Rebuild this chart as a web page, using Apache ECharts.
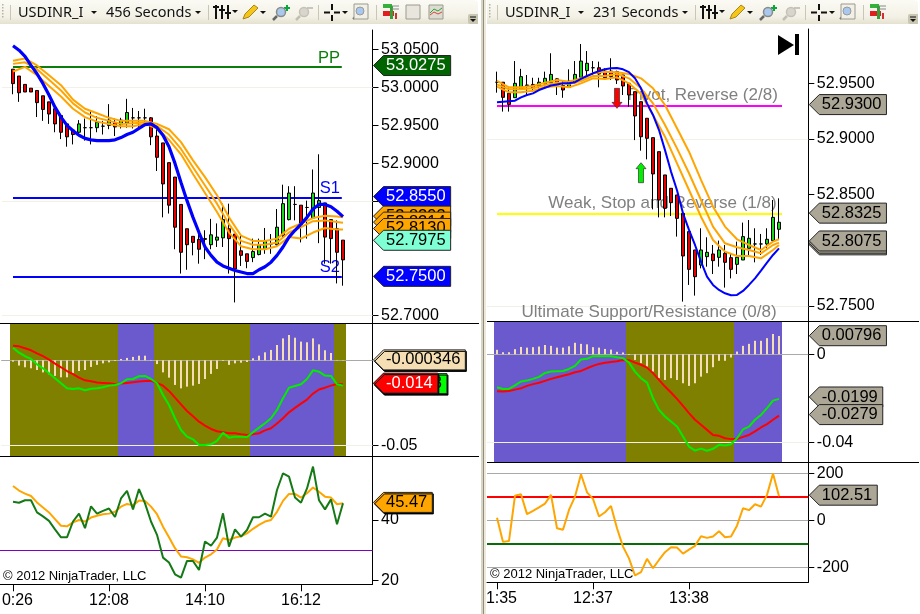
<!DOCTYPE html>
<html><head><meta charset="utf-8">
<style>html,body{margin:0;padding:0;background:#fff;overflow:hidden}#c{width:920px;height:614px}</style>
<script src="https://cdn.jsdelivr.net/npm/echarts@6/dist/echarts.min.js"></script>
</head><body><div id="c"></div>
<script>
// ---------- data, left chart (456 Seconds) : [open, close, low, high]
const leftOHLC = [
[53.024,53.005,52.991,53.024],[53.015,52.993,52.981,53.015],[53.004,52.994,52.994,53.004],[52.999,52.994,52.994,52.999],
[52.996,52.980,52.961,52.996],[52.989,52.971,52.956,52.989],[52.981,52.965,52.952,52.981],[52.972,52.952,52.941,52.972],
[52.963,52.941,52.932,52.963],[52.952,52.935,52.922,52.952],[52.944,52.938,52.925,52.944],[52.941,52.952,52.937,52.957],
[52.947,52.947,52.930,52.959],[52.947,52.947,52.925,52.970],[52.947,52.954,52.941,52.962],[52.949,52.949,52.938,52.956],
[52.950,52.957,52.945,52.978],[52.954,52.948,52.936,52.959],[52.951,52.957,52.946,52.960],[52.953,52.967,52.947,52.985],
[52.960,52.960,52.946,52.973],[52.960,52.960,52.948,52.969],[52.960,52.960,52.950,52.972],[52.960,52.935,52.924,52.961],
[52.936,52.908,52.890,52.948],[52.927,52.873,52.829,52.927],[52.901,52.845,52.834,52.901],[52.882,52.816,52.787,52.882],
[52.846,52.783,52.755,52.846],[52.814,52.793,52.760,52.814],[52.804,52.796,52.779,52.804],[52.800,52.787,52.768,52.812],
[52.801,52.800,52.774,52.812],[52.793,52.806,52.787,52.827],[52.799,52.803,52.790,52.821],[52.802,52.826,52.790,52.847],
[52.814,52.801,52.755,52.847],[52.807,52.761,52.717,52.807],[52.785,52.779,52.765,52.807],[52.781,52.771,52.762,52.781],
[52.776,52.784,52.770,52.801],[52.780,52.793,52.779,52.801],[52.787,52.798,52.781,52.815],[52.794,52.794,52.781,52.807],
[52.793,52.816,52.792,52.840],[52.805,52.847,52.803,52.872],[52.826,52.861,52.825,52.870],[52.846,52.846,52.825,52.870],
[52.845,52.820,52.796,52.845],[52.842,52.842,52.801,52.851],[52.828,52.861,52.827,52.892],[52.842,52.851,52.795,52.912],
[52.848,52.803,52.768,52.848],[52.826,52.801,52.768,52.826],[52.814,52.783,52.742,52.825],[52.799,52.773,52.739,52.799]];
const leftBlue = [53.055,53.049,53.041,53.029,53.018,53.005,52.990,52.974,52.961,52.950,52.943,52.937,52.933,52.931,52.930,52.930,52.930,52.931,52.934,52.938,52.941,52.946,52.951,52.952,52.947,52.937,52.922,52.900,52.875,52.851,52.829,52.809,52.790,52.779,52.770,52.765,52.762,52.759,52.757,52.755,52.755,52.760,52.764,52.770,52.779,52.790,52.803,52.812,52.820,52.829,52.840,52.846,52.846,52.843,52.837,52.830];
const leftEnvX = [0,2,4,6,8,10,12,14,16,18,20,22,24,26,28,30,32,34,36,38,40,42,44,46,48,50,52,54,55];
const leftUpper = [53.035,53.038,53.029,53.016,53.003,52.984,52.972,52.966,52.960,52.956,52.956,52.956,52.952,52.945,52.928,52.904,52.882,52.858,52.829,52.805,52.798,52.798,52.801,52.814,52.821,52.828,52.831,52.830,52.829];
const leftMiddle = [53.031,53.033,53.024,53.010,52.996,52.979,52.967,52.960,52.956,52.952,52.953,52.954,52.949,52.938,52.919,52.895,52.871,52.847,52.820,52.798,52.793,52.793,52.796,52.809,52.816,52.824,52.825,52.823,52.822];
const leftLower = [53.021,53.027,53.016,53.002,52.988,52.972,52.961,52.955,52.952,52.949,52.949,52.952,52.946,52.931,52.912,52.886,52.861,52.836,52.809,52.791,52.787,52.787,52.791,52.803,52.801,52.809,52.815,52.813,52.813];
const leftHist = [-.0008,-.0031,-.0041,-.0047,-.0057,-.0071,-.0082,-.0092,-.0100,-.0100,-.0076,-.0063,-.0057,-.0039,-.0027,-.0018,-.0012,-.0004,.0008,.0014,.0020,.0027,.0027,.0002,-.0022,-.0071,-.0102,-.0145,-.0165,-.0155,-.0149,-.0139,-.0110,-.0080,-.0051,-.0004,-.0027,-.0018,-.0014,-.0010,.0012,.0027,.0047,.0061,.0090,.0129,.0149,.0133,.0110,.0106,.0129,.0094,.0059,.0043,.0002,-.0002];
const leftMacdRed = [.0086,.0082,.0071,.0059,.0041,.0024,.0004,-.0020,-.0041,-.0063,-.0082,-.0102,-.0118,-.0123,-.0131,-.0133,-.0135,-.0139,-.0137,-.0133,-.0129,-.0125,-.0122,-.0120,-.0133,-.0149,-.0180,-.0220,-.0259,-.0298,-.0329,-.0361,-.0384,-.0404,-.0417,-.0423,-.0429,-.0429,-.0435,-.0439,-.0435,-.0429,-.0412,-.0400,-.0372,-.0341,-.0306,-.0280,-.0255,-.0231,-.0196,-.0172,-.0161,-.0149,-.0139,-.0141];
const leftMacdGreen = [.0074,.0045,.0024,.0008,-.0024,-.0047,-.0076,-.0106,-.0135,-.0165,-.0169,-.0165,-.0176,-.0167,-.0165,-.0159,-.0149,-.0145,-.0135,-.0112,-.0110,-.0094,-.0092,-.0110,-.0135,-.0204,-.0263,-.0341,-.0410,-.0449,-.0465,-.0498,-.0498,-.0494,-.0474,-.0427,-.0455,-.0449,-.0449,-.0451,-.0423,-.0396,-.0370,-.0341,-.0292,-.0223,-.0161,-.0151,-.0141,-.0110,-.0059,-.0067,-.0090,-.0092,-.0141,-.0149];
const leftRsiGreen = [46.0,45.7,46.5,46.5,42.5,41.2,39.7,36.9,34.3,34.3,39.5,42.1,37.3,44.5,42.1,43.0,43.8,41.0,47.1,49.6,43.5,50.2,45.5,39.5,35.1,27.6,26.0,22.1,21.0,26.5,26.5,23.5,32.9,31.5,34.2,42.2,31.2,36.9,34.5,36.7,40.9,40.9,42.1,41.1,49.9,55.4,54.3,47.4,45.7,50.4,57.6,46.5,43.5,46.8,38.6,45.5];
const leftRsiOrange = [51.2,49.7,48.7,47.9,45.8,44.1,42.5,40.3,38.1,37.9,39.2,40.0,39.5,40.8,41.4,41.9,42.1,42.7,44.4,45.3,44.9,46.4,46.3,44.4,41.9,37.8,34.3,30.7,28.0,27.7,27.0,25.9,27.6,28.7,30.3,34.0,33.4,34.2,34.6,35.6,37.1,38.4,39.5,40.0,42.7,46.3,48.6,48.6,47.4,48.8,50.7,49.3,47.7,47.4,45.2,45.5];
const leftTimeTicks = [0,16,32,48];
const leftTimeLabels = ["  0:26","12:08","14:10","16:12"];
const leftPriceTicks = [53.05,53.00,52.95,52.90,52.85,52.70];
const leftMacdTicks = [-0.05];
const leftRsiTicks = [40,20];
const leftPivots = [53.0275,52.855,52.75];
const leftPivotLabels = ["PP","S1","S2"];
const leftGrid = [53.00,52.85,52.70];
const leftPriceTags = [53.0275,52.855,52.8293,52.8214,52.8130,52.7975,52.75];
const leftMacdTags = [-0.0143,-0.014,-0.000346];
const leftMacdTagLabels = ["-0.0143","-0.014","-0.000346"];
const leftRsiTag = 45.47;
const leftBandEdges = [-0.5,17.5,23.5,39.5,53.5,55.5];

// ---------- data, right chart (231 Seconds)
const rightOHLC = [
[52.951,52.951,52.9416,52.9605],[52.951,52.9374,52.9246,52.951],[52.941,52.931,52.9246,52.9455],[52.9371,52.95,52.937,52.970],
[52.9446,52.956,52.9446,52.963],[52.9485,52.948,52.9395,52.9575],[52.949,52.9455,52.9425,52.955],[52.9476,52.951,52.9434,52.955],
[52.9494,52.9545,52.947,52.9605],[52.9506,52.958,52.950,52.977],[52.954,52.950,52.9395,52.9545],[52.948,52.944,52.937,52.953],
[52.9464,52.952,52.946,52.9626],[52.9506,52.958,52.950,52.970],[52.9554,52.970,52.953,52.9853],[52.9614,52.968,52.957,52.979],
[52.964,52.964,52.9575,52.970],[52.964,52.9584,52.9464,52.9695],[52.961,52.955,52.953,52.9635],[52.961,52.956,52.953,52.9725],
[52.9605,52.953,52.9494,52.9614],[52.9575,52.9476,52.9395,52.9575],[52.95,52.9395,52.929,52.95],[52.9425,52.9207,52.899,52.9425],
[52.9335,52.902,52.8895,52.9335],[52.9186,52.9006,52.8817,52.9186],[52.9012,52.8686,52.8368,52.9012],[52.8886,52.8452,52.8296,52.8886],
[52.8677,52.8377,52.8296,52.8677],[52.8557,52.8428,52.8308,52.8557],[52.8497,52.8287,52.8123,52.8497],[52.8332,52.7949,52.7539,52.8332],
[52.8168,52.7829,52.7689,52.8168],[52.8003,52.7763,52.7593,52.8003],[52.7868,52.8003,52.7838,52.8198],[52.7943,52.7982,52.7853,52.8117],
[52.7967,52.7907,52.7787,52.8048],[52.7937,52.8003,52.7853,52.8087],[52.7973,52.7892,52.7665,52.8048],[52.7934,52.7829,52.7748,52.7973],
[52.7874,52.7937,52.7787,52.8078],[52.7913,52.8123,52.7913,52.8249],[52.8018,52.8108,52.7958,52.8272],[52.8057,52.8057,52.7892,52.8198],
[52.8057,52.8057,52.7958,52.8147],[52.8057,52.8099,52.8018,52.8198],[52.8087,52.8296,52.8078,52.8452],[52.8189,52.8252,52.8093,52.8467]];
const rightBlue = [52.933,52.9335,52.934,52.9344,52.9374,52.9395,52.941,52.944,52.946,52.948,52.949,52.950,52.950,52.951,52.954,52.9566,52.959,52.961,52.9626,52.9635,52.9638,52.9626,52.960,52.9545,52.9455,52.932,52.9216,52.908,52.890,52.8707,52.854,52.8332,52.8183,52.8048,52.7898,52.7763,52.7689,52.7644,52.7614,52.7596,52.7599,52.7635,52.7689,52.7748,52.7817,52.7889,52.7958,52.8018];
const rightEnvX = [0,2,4,6,8,10,12,14,16,18,20,22,24,26,28,30,32,34,36,38,40,42,44,46,47];
const rightUpper = [52.9521,52.9464,52.9464,52.9476,52.9506,52.953,52.9515,52.9545,52.959,52.9605,52.9599,52.9584,52.9545,52.9455,52.9305,52.9096,52.8886,52.8632,52.8392,52.8213,52.8099,52.8048,52.8003,52.8078,52.8099];
const rightMiddle = [52.9491,52.9446,52.9446,52.9455,52.9485,52.9506,52.9494,52.9521,52.9566,52.9566,52.9584,52.9545,52.9455,52.932,52.9126,52.8916,52.8692,52.8452,52.8213,52.8063,52.8027,52.8003,52.7973,52.8048,52.8069];
const rightLower = [52.947,52.9419,52.9419,52.9434,52.9464,52.9476,52.9464,52.950,52.9545,52.9539,52.9554,52.95,52.9404,52.9216,52.9021,52.8781,52.8542,52.8302,52.8093,52.7988,52.7949,52.7949,52.7928,52.8003,52.8048];
const rightHist = [.0020,.0009,.0009,.0023,.0033,.0030,.0032,.0035,.0042,.0038,.0030,.0030,.0036,.0052,.0047,.0045,.0032,.0030,.0024,.0021,.0011,.0008,-.0003,-.0026,-.0041,-.0056,-.0079,-.0109,-.0117,-.0109,-.0117,-.0132,-.0144,-.0132,-.0102,-.0086,-.0059,-.0030,-.0030,-.0015,.0012,.0038,.0047,.0061,.0061,.0073,.0092,.0083];
const rightMacdRed = [-.0168,-.0170,-.0167,-.0161,-.0155,-.0144,-.0136,-.0130,-.0121,-.0112,-.0105,-.0098,-.0091,-.0082,-.0076,-.0064,-.0053,-.0044,-.0039,-.0035,-.0032,-.0026,-.0027,-.0038,-.0048,-.0061,-.0086,-.0117,-.0147,-.0174,-.0203,-.0235,-.0268,-.0298,-.0321,-.0344,-.0367,-.0371,-.0382,-.0386,-.0386,-.0376,-.0367,-.0351,-.0333,-.0318,-.0298,-.0279];
const rightMacdGreen = [-.0150,-.0158,-.0158,-.0142,-.0124,-.0120,-.0112,-.0103,-.0085,-.0079,-.0077,-.0076,-.0067,-.0053,-.0024,-.0021,-.0009,-.0009,-.0009,-.0009,-.0014,-.0018,-.0038,-.0079,-.0109,-.0129,-.0200,-.0253,-.0283,-.0306,-.0329,-.0374,-.0420,-.0438,-.0429,-.0439,-.0430,-.0412,-.0415,-.0409,-.0382,-.0342,-.0329,-.0298,-.0276,-.0245,-.0211,-.0203];
const rightCci = [11,-92,-88,105,111,26,40,55,71,108,-34,-40,44,101,196,119,91,16,34,61,-34,-112,-162,-235,-221,-164,-204,-169,-136,-115,-116,-142,-125,-109,-68,-75,-69,-47,-72,-69,-23,51,43,68,58,108,199,102.5];
const rightTimeTicks = [0,16,32];
const rightTimeLabels = ["  1:35","12:37","13:38"];
const rightPriceTicks = [52.95,52.90,52.85,52.75];
const rightMacdTicks = [0,-0.04];
const rightCciTicks = [200,0,-200];
const rightPivots = [52.93,52.8325];
const rightPivotLabels = ["Pivot, Reverse (2/8)","Weak, Stop and Reverse (1/8)","Ultimate Support/Resistance (0/8)"];
const rightPivotLabelValues = [52.9396,52.8418,52.7445];
const rightGrid = [52.90,52.75];
const rightPriceTags = [52.93,52.8325,52.8040,52.8055,52.8075];
const rightMacdTags = [0.00796,-0.0199,-0.0279];
const rightCciTag = 102.51;
const rightBandEdges = [-0.5,21.5,39.5,47.5];
const rightArrowDown = [[20,52.9275]];
const rightArrowUp = [[24,52.8787]];

// ---------- styling
const FONT='"Liberation Sans",Arial,sans-serif';
const UP='#19d419',DOWN='#e60000',ORANGE='#ffa500',BLACK='#000';
const OLIVE='#808000',SLATE='#6a5acd',PALE='#f1f1e8',GREY='#a9a9a9';
const TAGGREY='#aba696';
const LX={min:-2.1667,max:59.917}, RX={min:-1.6667,max:51.883};

const measure=document.createElement('canvas').getContext('2d');
function textW(t,size){measure.font=size+'px "Liberation Sans"';return measure.measureText(t).width;}

const gridBase={outerBoundsMode:'none',containLabel:false};
const grids=[
 {left:0,top:30,width:372.5,height:293.7},
 {left:0,top:323.7,width:372.5,height:132.6},
 {left:0,top:456.3,width:372.5,height:128},
 {left:487,top:29,width:321.3,height:292},
 {left:487,top:321,width:321.3,height:141},
 {left:487,top:462,width:321.3,height:120.3}].map(g=>Object.assign({},gridBase,g));

function xAx(g,r,ticks,labels){
 const show=ticks!=null;
 return {type:'value',gridIndex:g,min:r.min,max:r.max,
  axisLine:{show:show,onZero:false,lineStyle:{color:BLACK,width:1}},
  splitLine:{show:false},
  axisTick:show?{show:true,length:7,inside:false,customValues:ticks,lineStyle:{color:BLACK}}:{show:false},
  axisLabel:show?{show:true,customValues:ticks,margin:8,color:'#000',fontFamily:FONT,fontSize:16,hideOverlap:false,
     showMinLabel:true,showMaxLabel:true,formatter:v=>labels[ticks.indexOf(v)]}:{show:false}};
}
function yAx(g,min,max,ticks,fmt){
 return {type:'value',gridIndex:g,min:min,max:max,position:'right',scale:true,
  axisLine:{show:true,onZero:false,lineStyle:{color:BLACK,width:1}},
  splitLine:{show:false},
  axisTick:{show:true,length:6,customValues:ticks,lineStyle:{color:BLACK}},
  axisLabel:{show:true,customValues:ticks,margin:8.5,color:'#000',fontFamily:FONT,fontSize:16,formatter:fmt,hideOverlap:false,showMinLabel:true,showMaxLabel:true}};
}
const xAxes=[xAx(0,LX),xAx(1,LX),xAx(2,LX,leftTimeTicks,leftTimeLabels),xAx(3,RX),xAx(4,RX),xAx(5,RX,rightTimeTicks,rightTimeLabels)];
const yAxes=[
 yAx(0,52.689,53.0756,leftPriceTicks,v=>v.toFixed(4)),
 yAx(1,-0.05647,0.02153,leftMacdTicks,v=>String(v)),
 yAx(2,18.8,61,leftRsiTicks,v=>String(v)),
 yAx(3,52.7365,52.9988,rightPriceTicks,v=>v.toFixed(4)),
 yAx(4,-0.0490,0.0151,rightMacdTicks,v=>v===0?'0':String(v)),
 yAx(5,-264,248,rightCciTicks,v=>String(v))];

function candles(g,rows){
 return {type:'candlestick',xAxisIndex:g,yAxisIndex:g,z:4,barWidth:3,silent:true,animation:false,
  data:rows.map((r,i)=>[i,r[0],r[1],r[2],r[3]]),
  itemStyle:{color:UP,color0:DOWN,borderColor:BLACK,borderColor0:BLACK,borderColorDoji:BLACK,borderWidth:1}};
}
function line(g,xs,ys,color,width,z){
 return {type:'line',xAxisIndex:g,yAxisIndex:g,z:z||5,symbol:'none',silent:true,animation:false,smooth:false,
  data:ys.map((v,i)=>[xs?xs[i]:i,v]),lineStyle:{color:color,width:width},itemStyle:{color:color}};
}
function hist(g,vals){
 return {type:'bar',xAxisIndex:g,yAxisIndex:g,z:3,barWidth:2,silent:true,animation:false,
  data:vals.map((v,i)=>[i,v]),itemStyle:{color:'#f5deb3'}};
}
function bands(g,edges,colors){
 return {type:'custom',xAxisIndex:g,yAxisIndex:g,z:2,silent:true,animation:false,
  data:colors.map((c,i)=>[edges[i],edges[i+1]]),encode:{x:[0,1]},
  renderItem:(p,api)=>{const a=Math.round(api.coord([api.value(0),0])[0]),b=Math.round(api.coord([api.value(1),0])[0]);
   return {type:'rect',shape:{x:a,y:Math.round(p.coordSys.y),width:b-a,height:Math.round(p.coordSys.height)},style:{fill:colors[p.dataIndex]}};}};
}
// horizontal level lines; x range in bar-index units
function levels(g,vals,x0,x1,colors,widths,z){
 return {type:'custom',xAxisIndex:g,yAxisIndex:g,z:z||3,silent:true,animation:false,
  data:vals.map(v=>[x0,v]),encode:{x:0,y:1},clip:false,
  renderItem:(p,api)=>{const a=api.coord([x0,api.value(1)]),b=api.coord([x1,api.value(1)]);
   const y=Math.round(a[1])+(widths[p.dataIndex]%2?0.5:0);
   return {type:'line',shape:{x1:a[0],y1:y,x2:b[0],y2:y},style:{stroke:colors[p.dataIndex],lineWidth:widths[p.dataIndex]}};}};
}
function texts(g,xs,vals,labels,colors,size,z){
 return {type:'custom',xAxisIndex:g,yAxisIndex:g,z:z||1,silent:true,animation:false,
  data:vals.map((v,i)=>[xs[i],v]),encode:{x:0,y:1},clip:false,
  renderItem:(p,api)=>{const c=api.coord([api.value(0),api.value(1)]);
   return {type:'text',x:c[0],y:c[1],style:{text:labels[p.dataIndex],fill:colors[p.dataIndex],font:size+'px '+FONT,textAlign:'right',textVerticalAlign:'middle',align:'right',verticalAlign:'middle'}};}};
}
function tags(g,vals,labels,fills,inks,opts){
 opts=opts||{};
 return {type:'custom',xAxisIndex:g,yAxisIndex:g,z:opts.z||10,silent:true,animation:false,
  data:vals.map(v=>[0,v]),encode:{x:0,y:1},clip:false,
  renderItem:(p,api)=>{
   const i=p.dataIndex,x=p.coordSys.x+p.coordSys.width+1,y=api.coord([0,api.value(1)])[1]-1,t=labels[i];
   const tw=textW(t,16.5),r=x+10+tw+7.5;
   const sh=opts.shadow?{shadowColor:'#000',shadowOffsetX:1,shadowOffsetY:1.5,shadowBlur:0}:{};
   return {type:'group',children:[
    {type:'polygon',shape:{points:[[x,y],[x+10,y-10],[r,y-10],[r,y+10],[x+10,y+10]]},
     style:Object.assign({fill:fills[i],stroke:opts.stroke||'#222',lineWidth:1},sh)},
    {type:'text',x:x+12.5,y:y,style:{text:t,fill:inks[i],font:'16.5px '+FONT,textAlign:'left',textVerticalAlign:'middle',align:'left',verticalAlign:'middle'}}]};}};
}
function arrow(g,pts,color,dir){
 return {type:'custom',xAxisIndex:g,yAxisIndex:g,z:6,silent:true,animation:false,
  data:pts,encode:{x:0,y:1},clip:false,
  renderItem:(p,api)=>{const c=api.coord([api.value(0),api.value(1)]),x=c[0],y=c[1],d=dir;
   return {type:'polygon',shape:{points:[[x,y],[x+5,y-d*6],[x+2.5,y-d*6],[x+2.5,y-d*20],[x-2.5,y-d*20],[x-2.5,y-d*6],[x-5,y-d*6]]},
    style:{fill:color,stroke:'#333',lineWidth:0.7}};}};
}

const series=[
 // left price
 levels(0,leftGrid,LX.min+0.35,LX.max,[PALE,PALE,PALE],[1,1,1],1),
 levels(0,leftPivots,0,54.8,['#0b7d0b','#0000ff','#0000ff'],[2,2,2],3),
 texts(0,[54.5,54.5,54.5],[53.038,52.8665,52.7628],leftPivotLabels,['#0b7d0b','#0000ff','#0000ff'],16.5,3),
 candles(0,leftOHLC),
 line(0,leftEnvX,leftUpper,ORANGE,2),line(0,leftEnvX,leftMiddle,ORANGE,2),line(0,leftEnvX,leftLower,ORANGE,2),
 line(0,null,leftBlue,'#0000ff',3.2,6),
 tags(0,leftPriceTags,['53.0275','52.8550','52.8293','52.8214','52.8130','52.7975','52.7500'],
   ['#006400','#0000ff','#ffa500','#ffa500','#ffa500','#7fffd4','#0000ff'],['#fff','#fff','#000','#000','#000','#000','#fff']),
 // left macd
 bands(1,leftBandEdges,[OLIVE,SLATE,OLIVE,SLATE,OLIVE]),
 levels(1,[0,-0.05],LX.min+0.2,LX.max,[GREY,PALE],[1,1],3),
 hist(1,leftHist),
 line(1,null,leftMacdRed,'#ff0000',2),line(1,null,leftMacdGreen,'#00ee00',2,6),
 tags(1,leftMacdTags,leftMacdTagLabels,['#00ff00','#ff0000','#f5deb3'],['#000','#fff','#000'],{shadow:true}),
 // left rsi
 levels(2,[30],LX.min,LX.max,['#8000c0'],[1],3),
 line(2,null,leftRsiOrange,ORANGE,2),line(2,null,leftRsiGreen,'#157a15',2),
 tags(2,[leftRsiTag],['45.47'],['#ffa500'],['#000'],{shadow:true}),
 // right price
 levels(3,rightGrid,RX.min,RX.max,[PALE,PALE],[1,1],1),
 levels(3,rightPivots,0,47.5,['#ff00ff','#ffff00'],[2,2],3),
 texts(3,[46.8,46.6,46.6],rightPivotLabelValues,rightPivotLabels,['#808080','#808080','#808080'],17,1),
 candles(3,rightOHLC),
 line(3,rightEnvX,rightUpper,ORANGE,2),line(3,rightEnvX,rightMiddle,ORANGE,2),line(3,rightEnvX,rightLower,ORANGE,2),
 line(3,null,rightBlue,'#0000ff',2,6),
 arrow(3,rightArrowDown,'#ff0000',1),arrow(3,rightArrowUp,'#00ee00',-1),
 tags(3,rightPriceTags,['52.9300','52.8325','52.8040','52.8055','52.8075'],
   [TAGGREY,TAGGREY,TAGGREY,TAGGREY,TAGGREY],['#000','#000','#000','#000','#000']),
 // right macd
 bands(4,rightBandEdges,[SLATE,OLIVE,SLATE]),
 levels(4,[0,-0.04],RX.min,RX.max,[GREY,PALE],[1,1],3),
 hist(4,rightHist),
 line(4,null,rightMacdRed,'#ff0000',2),line(4,null,rightMacdGreen,'#00ee00',2,6),
 tags(4,rightMacdTags,['0.00796','-0.0199','-0.0279'],[TAGGREY,TAGGREY,TAGGREY],['#000','#000','#000']),
 // right cci
 levels(5,[200,0,-200,100,-100],RX.min,RX.max,[GREY,GREY,GREY,'#ff0000','#0b6b0b'],[1,1,1,2,2],3),
 line(5,null,rightCci,ORANGE,2),
 tags(5,[rightCciTag],['102.51'],[TAGGREY],['#000']),
];

// ---------- window chrome drawn as graphics
function rect(x,y,w,h,fill,z){return {type:'rect',silent:true,z:z||20,shape:{x,y,width:w,height:h},style:{fill}};}
function ln(x1,y1,x2,y2,c,w,z){return {type:'line',silent:true,z:z||20,shape:{x1,y1,x2,y2},style:{stroke:c,lineWidth:w||1}};}
function tx(t,x,y,size,fam,c,z){return {type:'text',silent:true,z:z||21,x,y,style:{text:t,fill:c||'#111',font:size+'px '+fam,textVerticalAlign:'middle',verticalAlign:'middle'}};}
function tri(x,y){return {type:'polygon',silent:true,z:21,shape:{points:[[x,y],[x+6,y],[x+3,y+3]]},style:{fill:'#111'}};}
function toolbar(o,w,period,extra){
 const TB={type:'linear',x:0,y:0,x2:0,y2:1,colorStops:[{offset:0,color:'#fbfaf4'},{offset:0.7,color:'#f3f1e6'},{offset:1,color:'#e4e1d0'}]};
 const e=[];
 e.push({type:'rect',silent:true,z:20,shape:{x:o,y:0,width:w,height:24,r:[0,4,4,0]},style:{fill:TB}});
 for(let k=0;k<5;k++)e.push(rect(o+2,4+k*3,1.5,1.5,'#b4b2a4'));
 e.push(ln(o+10.5,5,o+10.5,20,'#c8c6b6'));
 e.push(tx('USDINR_I',o+18,13,14.5,'"Noto Sans"'));
 e.push(tri(o+91,11));
 e.push(tx(period,o+106,13,14.5,'"Noto Sans"'));
 e.push(tri(o+195,11));
 e.push(ln(o+208.5,5,o+208.5,20,'#c8c6b6'));
 [215,221,227].forEach((dx,k)=>{e.push(rect(o+dx,5,2,14,'#111'));e.push(rect(o+dx-2,6+k*3,6,2,'#111'));});
 e.push(tri(o+232,10));
 e.push({type:'polygon',silent:true,z:21,shape:{points:[[o+243,19],[o+245,14],[o+254,5],[o+258,8],[o+249,17]]},style:{fill:'#f5c518',stroke:'#a8861c',lineWidth:1}});
 e.push(tri(o+260,11));
 e.push({type:'circle',silent:true,z:21,shape:{cx:o+281,cy:12,r:4.5},style:{fill:'#a8c8ee',stroke:'#8a8a8a',lineWidth:1.5}});
 e.push(ln(o+277,16,o+273,20,'#666',2.5));
 e.push(rect(o+284,7,6,2,'#0aa83a'));e.push(rect(o+286,5,2,6,'#0aa83a'));
 e.push({type:'circle',silent:true,z:21,shape:{cx:o+304,cy:12,r:4.5},style:{fill:'#d8d6cc',stroke:'#c4c2b8',lineWidth:1.5}});
 e.push(ln(o+300,16,o+296,20,'#c0bfb5',2.5));e.push(rect(o+307,7,6,2,'#c8c6bc'));
 e.push(ln(o+318.5,5,o+318.5,20,'#c8c6b6'));
 e.push(rect(o+324,11.5,6,2,'#111'));e.push(rect(o+334,11.5,6,2,'#111'));e.push(rect(o+331,4,2,6,'#111'));e.push(rect(o+331,15,2,6,'#111'));
 e.push(tri(o+342,11));
 e.push({type:'rect',silent:true,z:21,shape:{x:o+354,y:4,width:14,height:15},style:{fill:'#f2f0e6',stroke:'#9a9a90',lineWidth:1}});
 e.push({type:'circle',silent:true,z:21,shape:{cx:o+360,cy:11,r:4},style:{fill:'#a8c8ee',stroke:'#9a9a9a',lineWidth:1}});
 e.push(ln(o+357,15,o+353,19,'#666',2));
 e.push(ln(o+376.5,5,o+376.5,20,'#c8c6b6'));
 e.push(rect(o+383,4,9,4,'#35b03a'));e.push(rect(o+383,11,11,5,'#e02020'));e.push(rect(o+390,6,3,13,'#35a03a'));e.push(rect(o+395,13,2,6,'#d03030'));e.push(ln(o+392,6,o+399,6,'#888',1));e.push(ln(o+392,9,o+399,9,'#888',1));
 if(extra){
  e.push({type:'rect',silent:true,z:21,shape:{x:o+406,y:5,width:14,height:14},style:{fill:'#e8e6dc',stroke:'#9a9a90',lineWidth:1}});
  e.push(rect(o+408,8,3,9,'#28b828'));e.push(rect(o+412,6,3,8,'#111'));e.push(rect(o+416,8,3,9,'#e02020'));
  e.push({type:'rect',silent:true,z:21,shape:{x:o+429,y:5,width:14,height:14},style:{fill:'#dcdcd2',stroke:'#9a9a90',lineWidth:1}});
  e.push({type:'polyline',silent:true,z:21,shape:{points:[[o+430,13],[o+434,9],[o+438,11],[o+442,8]]},style:{stroke:'#28a828',fill:null,lineWidth:1}});
  e.push({type:'polyline',silent:true,z:21,shape:{points:[[o+430,15],[o+434,12],[o+438,14],[o+442,12]]},style:{stroke:'#e04040',fill:null,lineWidth:1}});
 }
 e.push({type:'rect',silent:true,z:21,shape:{x:o+w-10,y:14,width:10,height:10,r:[2,0,0,2]},style:{fill:'#c9c6b2'}});
 e.push(tri(o+w-8,19));e.push(rect(o+w-8,16.5,6,1,'#111',22));
 return e;
}
const chrome=[].concat(
 toolbar(0,478,'456 Seconds',true),
 toolbar(487,431,'231 Seconds',false),
 [
 rect(481,0,2,614,'#d8d5c4',30),rect(483,0,1,614,'#8f8d80',30),rect(484,0,2,614,'#ece9d8',30),
 ln(0,323.5,479,323.5,'#000',1),ln(0,456.5,479,456.5,'#000',1),
 ln(487,321.5,919,321.5,'#000',1),ln(487,462.5,919,462.5,'#000',1),
 tx('© 2012 NinjaTrader, LLC',3,576,13,FONT,'#000',22),
 tx('© 2012 NinjaTrader, LLC',490,574,13,FONT,'#000',22),
 {type:'polygon',silent:true,z:22,shape:{points:[[778,35],[794,45],[778,55]]},style:{fill:'#000'}},
 rect(795,34,4,21,'#000',22)
 ]);

const chart=echarts.init(document.getElementById('c'),null,{renderer:'canvas',width:920,height:614});
chart.setOption({animation:false,backgroundColor:'#fff',tooltip:{show:false},legend:{show:false},
 grid:grids,xAxis:xAxes,yAxis:yAxes,series:series,graphic:{elements:chrome}});
</script></body></html>
